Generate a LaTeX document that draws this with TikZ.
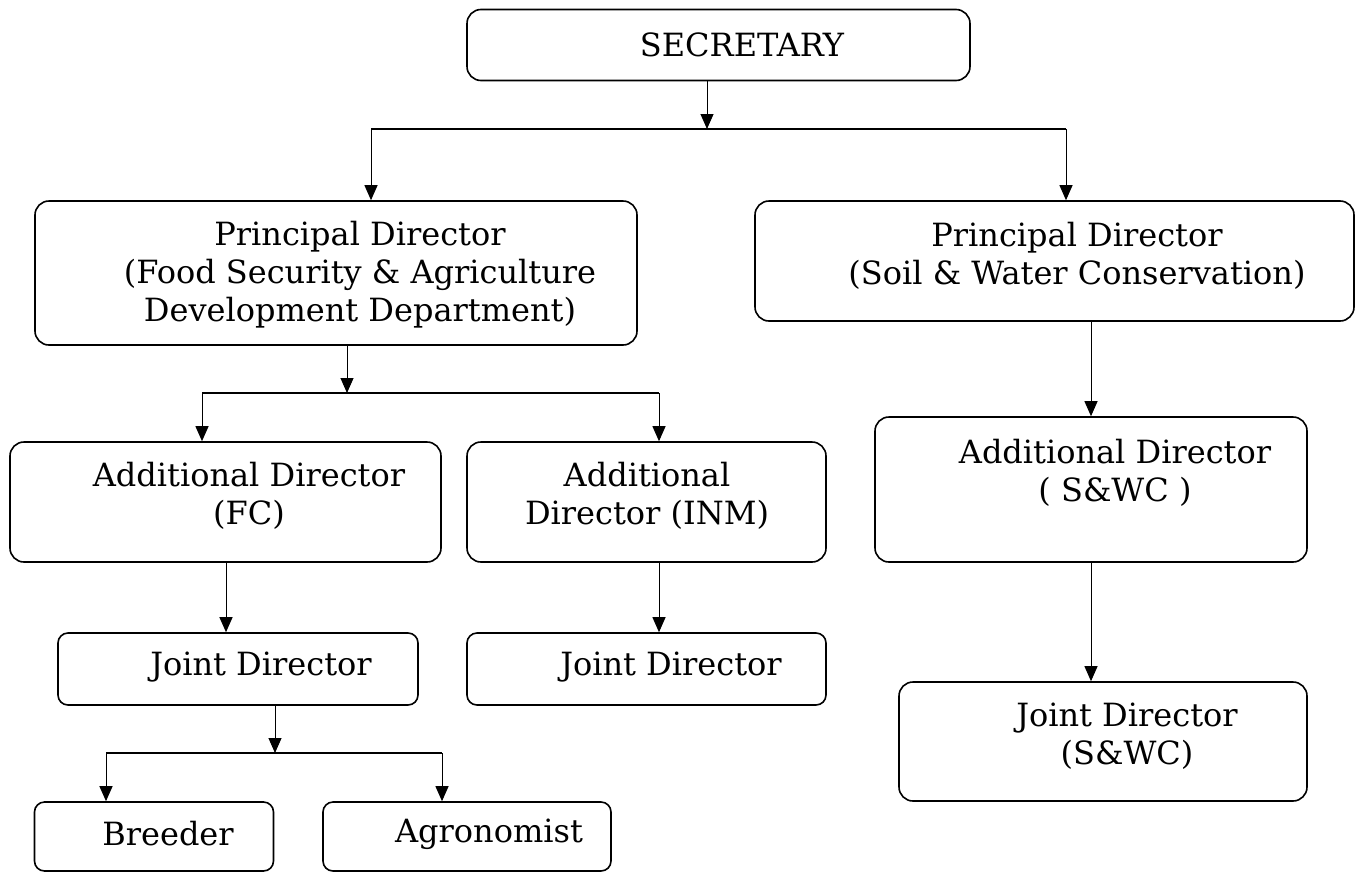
\documentclass[tikz,border=0pt]{standalone}
\usepackage{fontspec}
\setmainfont{DejaVu Serif}
\usetikzlibrary{arrows.meta}
\begin{document}
\begin{tikzpicture}[x=1pt,y=-1pt,
  box/.style={draw,line width=1.6pt,rounded corners=14pt,inner sep=0pt},
  sbox/.style={draw,line width=1.6pt,rounded corners=10pt,inner sep=0pt},
  lbl/.style={inner sep=0pt,align=center,font=\fontsize{32}{38}\selectfont},
  arr/.style={line width=1pt,-{Triangle[length=15pt,width=13pt]}},
  bar/.style={line width=2pt}]
\useasboundingbox (0,0) rectangle (1359,873);
% boxes
\node[box,minimum width=503pt,minimum height=71pt] (sec) at (718.5,45) {};
\node[box,minimum width=602pt,minimum height=144pt] (pdl) at (336,273) {};
\node[box,minimum width=599pt,minimum height=120pt] (pdr) at (1054.5,261) {};
\node[box,minimum width=431pt,minimum height=120pt] (adfc) at (225.5,502) {};
\node[box,minimum width=359pt,minimum height=120pt] (adinm) at (646.5,502) {};
\node[box,minimum width=432pt,minimum height=145pt] (adswc) at (1091,489.5) {};
\node[sbox,minimum width=360pt,minimum height=72pt] (jdfc) at (238,669) {};
\node[sbox,minimum width=359pt,minimum height=72pt] (jdinm) at (646.5,669) {};
\node[box,minimum width=408pt,minimum height=119pt] (jdswc) at (1103,741.5) {};
\node[sbox,minimum width=239pt,minimum height=69pt] (breeder) at (154,836.5) {};
\node[sbox,minimum width=288pt,minimum height=69pt] (agro) at (467,836.5) {};
% texts
\node[lbl] (tsec) at (742,45) {SECRETARY};
\node[lbl] (tpdl) at (360,275) {Principal Director\\(Food Security \& Agriculture\\Development Department)};
\node[lbl] (tpdr) at (1077,256) {Principal Director\\(Soil \& Water Conservation)};
\node[lbl] (tadfc) at (249,496) {Additional Director\\(FC)};
\node[lbl] (tadinm) at (647,496) {Additional\\Director (INM)};
\node[lbl] (tadswc) at (1115,473) {Additional Director\\( S\&WC )};
\node[lbl] (tjdfc) at (261,667) {Joint Director};
\node[lbl] (tjdinm) at (671,667) {Joint Director};
\node[lbl] (tjdswc) at (1127,736) {Joint Director\\(S\&WC)};
\node[lbl] (tbreeder) at (168,834) {Breeder};
\node[lbl] (tagro) at (489,834) {Agronomist};
% junctions
\coordinate (j1) at (707,129);
\coordinate (j1l) at (371,129);
\coordinate (j1r) at (1066,129);
\coordinate (j2) at (347,393);
\coordinate (j2l) at (202,393);
\coordinate (j2r) at (659,393);
\coordinate (j3) at (275,753);
\coordinate (j3l) at (106,753);
\coordinate (j3r) at (442,753);
% connectors
\draw[arr] (sec.south -| j1) -- (j1);
\draw[bar] (j1l) -- (j1r);
\draw[arr] (j1l) -- (j1l |- pdl.north);
\draw[arr] (j1r) -- (j1r |- pdr.north);
\draw[arr] (pdl.south -| j2) -- (j2);
\draw[bar] (j2l) -- (j2r);
\draw[arr] (j2l) -- (j2l |- adfc.north);
\draw[arr] (j2r) -- (j2r |- adinm.north);
\coordinate (c1) at (1091,0);
\draw[arr] (pdr.south -| c1) -- (adswc.north -| c1);
\draw[arr] (adswc.south -| c1) -- (jdswc.north -| c1);
\coordinate (c2) at (226,0);
\draw[arr] (adfc.south -| c2) -- (jdfc.north -| c2);
\coordinate (c3) at (659,0);
\draw[arr] (adinm.south -| c3) -- (jdinm.north -| c3);
\draw[arr] (jdfc.south -| j3) -- (j3);
\draw[bar] (j3l) -- (j3r);
\draw[arr] (j3l) -- (j3l |- breeder.north);
\draw[arr] (j3r) -- (j3r |- agro.north);
\end{tikzpicture}
\end{document}
